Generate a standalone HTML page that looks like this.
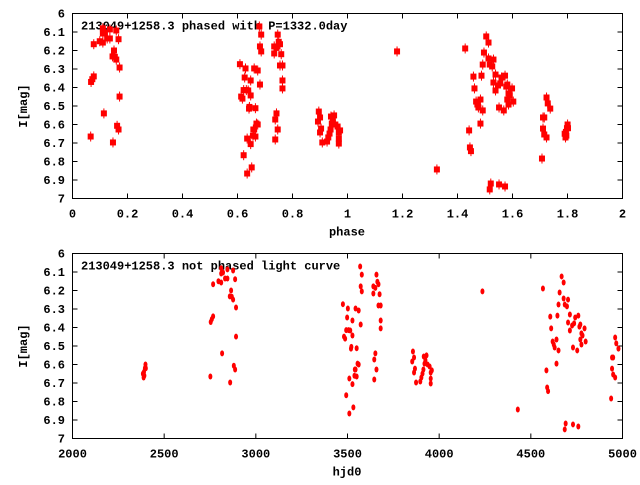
<!DOCTYPE html>
<html><head><meta charset="utf-8"><style>
body{margin:0;background:#fff}
svg text{font-family:"Liberation Mono","DejaVu Sans Mono",monospace;font-weight:bold;font-size:12px;fill:#000}
</style></head><body>
<svg id="c" width="640" height="480" xmlns="http://www.w3.org/2000/svg"></svg>
<script>
const period = 1332.0;
const epoch = 2664;
const hjd = [2384,2390,2395,2400,2398,2388,2392,
2752,2754,2760,2767,2767,2796,2811,2811,2821,2811,2832,2845,2845,2876,2887,2865,2858,2869,2876,2892,2892,2816,2860,2880,2887,
3475,3502,3498,3527,3493,3506,3515,3481,3487,3527,3521,3519,3550,3544,3561,3572,3569,3578,3572,3578,3555,3561,3540,3544,3538,3550,3510,3527,3493,3532,3510,
3641,3652,3641,3658,3663,3669,3675,3669,3681,3681,3681,3652,3646,3658,3646,
3857,3863,3853,3868,3863,3874,3897,3903,3909,3914,3920,3916,3931,3925,3937,3948,3954,3960,3954,3954,
4236,4429,
4566,4585,4589,4594,4606,4611,4619,4625,4630,4640,4651,4645,4651,4657,4668,4679,4679,4685,4697,4703,4703,4713,4713,4725,4730,4736,4742,4753,4759,4765,4770,4776,4782,4770,4793,4799,4776,4640,4690,4730,4759,4685,
4938,4949,4943,4943,4949,4960,4960,4966,4978];
const mag = [6.65,6.64,6.62,6.62,6.60,6.67,6.66,
6.665,6.37,6.355,6.34,6.166,6.15,6.157,6.108,6.103,6.08,6.135,6.135,6.086,6.092,6.139,6.2,6.232,6.234,6.249,6.292,6.449,6.54,6.697,6.607,6.627,
6.274,6.297,6.346,6.362,6.414,6.414,6.416,6.449,6.46,6.443,6.505,6.514,6.512,6.297,6.308,6.384,6.07,6.114,6.178,6.205,6.595,6.6,6.627,6.627,6.661,6.665,6.676,6.706,6.766,6.832,6.865,
6.178,6.186,6.216,6.114,6.153,6.166,6.22,6.281,6.281,6.362,6.405,6.54,6.573,6.627,6.681,
6.53,6.562,6.584,6.622,6.643,6.697,6.692,6.67,6.649,6.627,6.595,6.557,6.551,6.577,6.6,6.611,6.643,6.632,6.676,6.703,
6.205,6.843,
6.189,6.632,6.724,6.744,6.341,6.405,6.476,6.492,6.508,6.465,6.524,6.336,6.276,6.211,6.124,6.157,6.243,6.276,6.286,6.249,6.373,6.33,6.416,6.389,6.508,6.378,6.346,6.524,6.336,6.395,6.384,6.432,6.443,6.465,6.405,6.476,6.492,6.595,6.919,6.924,6.935,6.951,6.784,
6.562,6.562,6.622,6.654,6.67,6.454,6.486,6.514,6.535];
const phaseTicks = ["0","0.2","0.4","0.6","0.8","1","1.2","1.4","1.6","1.8","2"];
const hjdTicks = ["2000","2500","3000","3500","4000","4500","5000"];
const magTicks = ["6","6.1","6.2","6.3","6.4","6.5","6.6","6.7","6.8","6.9","7"];

const svg = document.getElementById('c');
const NS = 'http://www.w3.org/2000/svg';
function mk(tag, attrs, parent){const e=document.createElementNS(NS,tag);for(const k in attrs)e.setAttribute(k,attrs[k]);(parent||svg).appendChild(e);return e;}

const L=72.5, R=622.5;
function panel(top, bottom, xmin, xmax, xt, xtitle, title, name){
  const g=mk('g',{});
  
  
  const xs=v=>L+(v-xmin)/(xmax-xmin)*(R-L);
  const ys=m=>top+(m-6)*(bottom-top);
  const frame=mk('rect',{x:L,y:top,width:R-L,height:bottom-top,fill:'none',stroke:'#000','stroke-width':1},g);
  
  
  magTicks.forEach(t=>{
    const y=ys(parseFloat(t));
    mk('line',{x1:L,x2:L+5,y1:y,y2:y,stroke:'#000'},g);
    mk('line',{x1:R-5,x2:R,y1:y,y2:y,stroke:'#000'},g);
    const tx=mk('text',{x:65,y:y+4,'text-anchor':'end'},g);tx.textContent=t;
    
    
  });
  xt.forEach(t=>{
    const x=xs(parseFloat(t));
    mk('line',{x1:x,x2:x,y1:bottom,y2:bottom-5,stroke:'#000'},g);
    mk('line',{x1:x,x2:x,y1:top,y2:top+5,stroke:'#000'},g);
    const tx=mk('text',{x:x,y:bottom+19,'text-anchor':'middle'},g);tx.textContent=t;
    
    
  });
  const xtl=mk('text',{x:347,y:bottom+37,'text-anchor':'middle'},g);xtl.textContent=xtitle;
  
  
  const yc=(top+bottom)/2;
  const ytl=mk('text',{x:27,y:yc,'text-anchor':'middle',transform:`rotate(-90 27 ${yc})`},g);ytl.textContent='I[mag]';
  
  
  const ttl=mk('text',{x:81,y:top+16},g);ttl.textContent=title;
  
  
  return {g,xs,ys};
}
const p1=panel(13.5,198.5,0,2,phaseTicks,'phase','213049+1258.3 phased with P=1332.0day','phased-panel');
const p2=panel(253.5,438.5,2000,5000,hjdTicks,'hjd0','213049+1258.3 not phased light curve','unphased-panel');
for(let i=0;i<hjd.length;i++){
  let ph=(hjd[i]-epoch)/period; if(ph<0) ph+=2;
  const x=p1.xs(ph), y=p1.ys(mag[i]);
  mk('line',{x1:x,x2:x,y1:y-5,y2:y+5,stroke:'#f00','stroke-width':1},p1.g);
  const r=mk('rect',{x:x-3,y:y-3,width:6,height:6,fill:'#f00'},p1.g);
  
  
  const e=mk('ellipse',{cx:p2.xs(hjd[i]),cy:p2.ys(mag[i]),rx:2,ry:3,fill:'#f00'},p2.g);
  
  
}
</script>
</body></html>
